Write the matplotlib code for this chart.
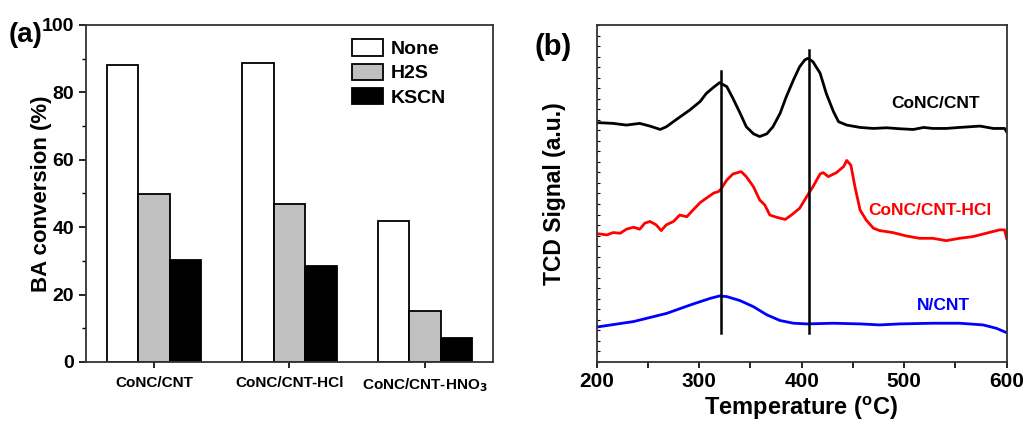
import numpy as np
import matplotlib
matplotlib.use("Agg")
import matplotlib.pyplot as plt
from matplotlib.ticker import MultipleLocator

plt.rcParams['font.family'] = ['Liberation Sans', 'DejaVu Sans']
plt.rcParams['font.weight'] = 'bold'

# Panel (a) data
catalysts = ['CoNC/CNT', 'CoNC/CNT-HCl', 'CoNC/CNT-HNO$_3$']
poisons = ['None', 'H2S', 'KSCN']
conv_none = [88.0, 88.6, 41.9]
conv_h2s = [49.9, 47.0, 15.2]
conv_kscn = [30.3, 28.6, 7.0]
bar_colors = ['white', '#c0c0c0', 'black']

# Panel (b) data: TPD curves (offset signal, a.u.)
t_conc = [200, 203, 216, 229, 242, 252, 262, 268, 278, 291, 301, 307, 314, 320, 327, 333, 340,
          346, 353, 359, 366, 372, 379, 385, 392, 398, 403, 406, 411, 418, 424, 431, 436,
          444, 457, 470, 483, 496, 509, 519, 528, 541, 554, 574, 587, 598, 600]
s_conc = [71.0, 71.0, 70.8, 70.3, 70.8, 70.0, 69.0, 69.8, 72.0, 74.8, 77.3, 79.7, 81.5, 82.9,
          81.7, 78.2, 73.8, 69.8, 67.7, 66.9, 67.7, 69.8, 73.8, 78.7, 83.7, 87.6, 89.6, 90.1,
          89.1, 85.7, 79.7, 74.3, 71.3, 70.3, 69.6, 69.3, 69.5, 69.2, 69.0, 69.6, 69.3, 69.3,
          69.6, 70.0, 69.3, 69.3, 68.3]
t_hcl = [200, 203, 210, 216, 223, 229, 236, 242, 247, 252, 258, 263, 268, 275, 281, 288, 294,
         301, 307, 314, 319, 321, 327, 333, 341, 346, 353, 359, 364, 369, 376, 384, 390, 398,
         405, 411, 418, 421, 426, 434, 441, 444, 448, 452, 457, 463, 470, 476, 489, 502, 515,
         528, 541, 554, 567, 580, 593, 598, 600]
s_hcl = [38.0, 38.0, 37.7, 38.4, 38.2, 39.4, 40.0, 39.4, 41.2, 41.7, 40.7, 39.0, 40.7, 41.7,
         43.6, 43.1, 45.1, 47.3, 48.6, 50.1, 50.6, 51.2, 54.0, 55.8, 56.5, 55.0, 52.0, 48.1,
         46.6, 43.6, 42.9, 42.3, 43.6, 45.6, 49.1, 52.0, 55.8, 56.2, 55.0, 56.2, 58.0, 59.8,
         58.4, 52.0, 45.1, 42.1, 39.7, 39.0, 38.4, 37.4, 36.7, 36.7, 36.0, 36.7, 37.2, 38.2,
         39.2, 39.2, 36.7]
t_ncnt = [200, 203, 236, 268, 294, 311, 320, 327, 340, 353, 366, 379, 392, 405, 431, 457, 476,
          496, 528, 554, 577, 590, 600]
s_ncnt = [10.4, 10.5, 12.0, 14.4, 17.2, 18.9, 19.6, 19.4, 18.2, 16.4, 14.0, 12.3, 11.5, 11.3,
          11.5, 11.3, 11.0, 11.3, 11.5, 11.5, 11.0, 10.0, 8.7]
peak_temps = [321, 407]
peak_tops = [86.4, 92.6]
peak_bottom = 8.6

fig = plt.figure(figsize=(10.25, 4.22), dpi=100)
ax1 = fig.add_axes([0.0839, 0.1422, 0.397, 0.7986])
ax2 = fig.add_axes([0.5821, 0.1422, 0.400, 0.7986])

# ---- panel (a) ----
x = np.arange(1, len(catalysts) + 1)
w = 0.232
for i, (vals, col, name) in enumerate(zip([conv_none, conv_h2s, conv_kscn], bar_colors, poisons)):
    ax1.bar(x + (i - 1) * w, vals, width=w, color=col, edgecolor='black', linewidth=1.3, label=name)
ax1.set_xlim(0.5, 3.5)
ax1.set_ylim(0, 100)
ax1.set_xticks(x)
ax1.set_xticklabels(catalysts, fontsize=11, fontweight='bold')
ax1.yaxis.set_major_locator(MultipleLocator(20))
ax1.yaxis.set_minor_locator(MultipleLocator(10))
ax1.tick_params(axis='y', which='major', labelsize=14, length=5, width=1.2)
ax1.tick_params(axis='y', which='minor', length=3, width=1.0)
ax1.tick_params(axis='x', length=4, width=1.2, pad=6)
ax1.set_ylabel('BA conversion (%)', fontsize=16, fontweight='bold')
ax1.yaxis.set_label_coords(-0.083, 0.5)
for sp in ax1.spines.values():
    sp.set_linewidth(1.3)
    sp.set_color('#333333')
ax1.legend(loc='upper right', frameon=False, fontsize=14, handlelength=1.6, handleheight=0.9,
           handletextpad=0.4, labelspacing=0.28, borderaxespad=0.6, bbox_to_anchor=(0.933, 1.015))
fig.text(0.008, 0.9, '(a)', fontsize=20, fontweight='bold')

# ---- panel (b) ----
ax2.plot(t_conc, s_conc, color='black', lw=2)
ax2.plot(t_hcl, s_hcl, color='red', lw=2)
ax2.plot(t_ncnt, s_ncnt, color='blue', lw=2)
for t, top in zip(peak_temps, peak_tops):
    ax2.plot([t, t], [peak_bottom, top], color='black', lw=1.8)
ax2.text(531, 76.6, 'CoNC/CNT', color='black', fontsize=12.5, fontweight='bold', ha='center', va='center')
ax2.text(525, 45.1, 'CoNC/CNT-HCl', color='red', fontsize=12.5, fontweight='bold', ha='center', va='center')
ax2.text(538, 16.9, 'N/CNT', color='blue', fontsize=12.5, fontweight='bold', ha='center', va='center')
ax2.set_xlim(200, 600)
ax2.set_ylim(0, 100)
ax2.xaxis.set_major_locator(MultipleLocator(100))
ax2.xaxis.set_minor_locator(MultipleLocator(50))
ax2.tick_params(axis='x', which='major', labelsize=15, length=4, width=1.2)
ax2.tick_params(axis='x', which='minor', length=4, width=1.2)
ax2.yaxis.set_major_locator(MultipleLocator(100 / 32))
ax2.tick_params(axis='y', which='major', direction='in', length=2, width=0.8, labelleft=False)
ax2.set_xlabel('Temperature ($^\\mathregular{o}$C)', fontsize=17, fontweight='bold', labelpad=2)
ax2.set_ylabel('TCD Signal (a.u.)', fontsize=16.5, fontweight='bold')
ax2.yaxis.set_label_coords(-0.074, 0.5)
for sp in ax2.spines.values():
    sp.set_linewidth(1.3)
    sp.set_color('#333333')
fig.text(0.521, 0.87, '(b)', fontsize=21, fontweight='bold')

fig.savefig('out.png', dpi=100)
